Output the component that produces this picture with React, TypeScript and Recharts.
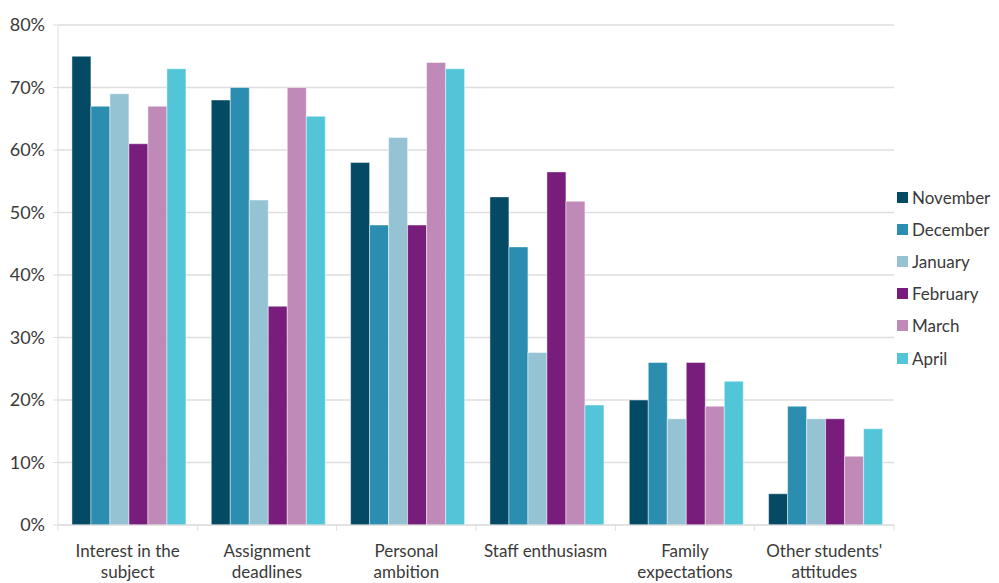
import { BarChart, Bar, XAxis, YAxis, CartesianGrid, Legend } from "recharts";

const categories = [
  ["Interest in the", "subject"],
  ["Assignment", "deadlines"],
  ["Personal", "ambition"],
  ["Staff enthusiasm"],
  ["Family", "expectations"],
  ["Other students'", "attitudes"],
];

const november = [75, 68, 58, 52.5, 20, 5];
const december = [67, 70, 48, 44.5, 26, 19];
const january = [69, 52, 62, 27.6, 17, 17];
const february = [61, 35, 48, 56.5, 26, 17];
const march = [67, 70, 74, 51.8, 19, 11];
const april = [73, 65.4, 73, 19.2, 23, 15.4];

const yTicks = [0, 10, 20, 30, 40, 50, 60, 70, 80];

const SERIES = [
  { key: "November", values: november, color: "#044a64" },
  { key: "December", values: december, color: "#2b8db0" },
  { key: "January", values: january, color: "#96c3d3" },
  { key: "February", values: february, color: "#791d7d" },
  { key: "March", values: march, color: "#c08ab8" },
  { key: "April", values: april, color: "#52c6d8" },
];

const data = categories.map((lines, i) => {
  const row: Record<string, any> = { name: lines.join(" "), lines };
  SERIES.forEach((s) => (row[s.key] = s.values[i]));
  return row;
});

const FONT = "Lato, 'Open Sans', sans-serif";
const TEXT = "#3a3a3a";
const GRID = "#dedede";

function CategoryTick(props: any) {
  const { x, y, payload, index } = props;
  const half = payload?.offset ?? 69.7;
  const lines: string[] = data[payload.index ?? index]?.lines ?? [String(payload.value)];
  return (
    <g>
      <line x1={x - half} x2={x - half} y1={y - 8} y2={y - 2} stroke={GRID} />
      {index === categories.length - 1 && (
        <line x1={x + half} x2={x + half} y1={y - 8} y2={y - 2} stroke={GRID} />
      )}
      <text x={x} y={y + 24} textAnchor="middle" fill={TEXT} fontSize={17} fontFamily={FONT}>
        {lines.map((l, i) => (
          <tspan key={i} x={x} dy={i === 0 ? 0 : 21}>
            {l}
          </tspan>
        ))}
      </text>
    </g>
  );
}

function MonthLegend() {
  return (
    <div style={{ width: 100, fontFamily: FONT, fontSize: 17, color: TEXT }}>
      {SERIES.map((s) => (
        <div key={s.key} style={{ display: "flex", alignItems: "center", height: 32.2 }}>
          <span style={{ width: 11, height: 11, background: s.color, marginRight: 4, display: "inline-block" }} />
          <span>{s.key}</span>
        </div>
      ))}
    </div>
  );
}

export default function App() {
  return (
    <div style={{ position: "absolute", left: 0, top: 0, background: "#fff" }}>
      <BarChart
        width={999}
        height={583}
        data={data}
        margin={{ top: 25, right: 5, bottom: 0, left: 0 }}
        barCategoryGap="10%"
        barGap={0}
      >
        <CartesianGrid vertical={false} stroke={GRID} strokeWidth={1.5} />
        <XAxis
          dataKey="name"
          height={58}
          stroke={GRID}
          tickLine={false}
          tick={<CategoryTick />}
          interval={0}
        />
        <YAxis
          width={58}
          domain={[0, 80]}
          ticks={yTicks}
          tickFormatter={(v: number) => `${v}%`}
          stroke={GRID}
          tickSize={5}
          tickMargin={8}
          tick={{ fill: TEXT, fontSize: 18, fontFamily: FONT }}
        />
        <Legend
          layout="vertical"
          align="right"
          verticalAlign="middle"
          wrapperStyle={{ top: 181, left: 897, right: "auto" }}
          content={<MonthLegend />}
        />
        {SERIES.map((s) => (
          <Bar
            key={s.key}
            dataKey={s.key}
            fill={s.color}
            stroke="#ffffff"
            strokeOpacity={0.45}
            strokeWidth={1}
            isAnimationActive={false}
          />
        ))}
      </BarChart>
    </div>
  );
}
